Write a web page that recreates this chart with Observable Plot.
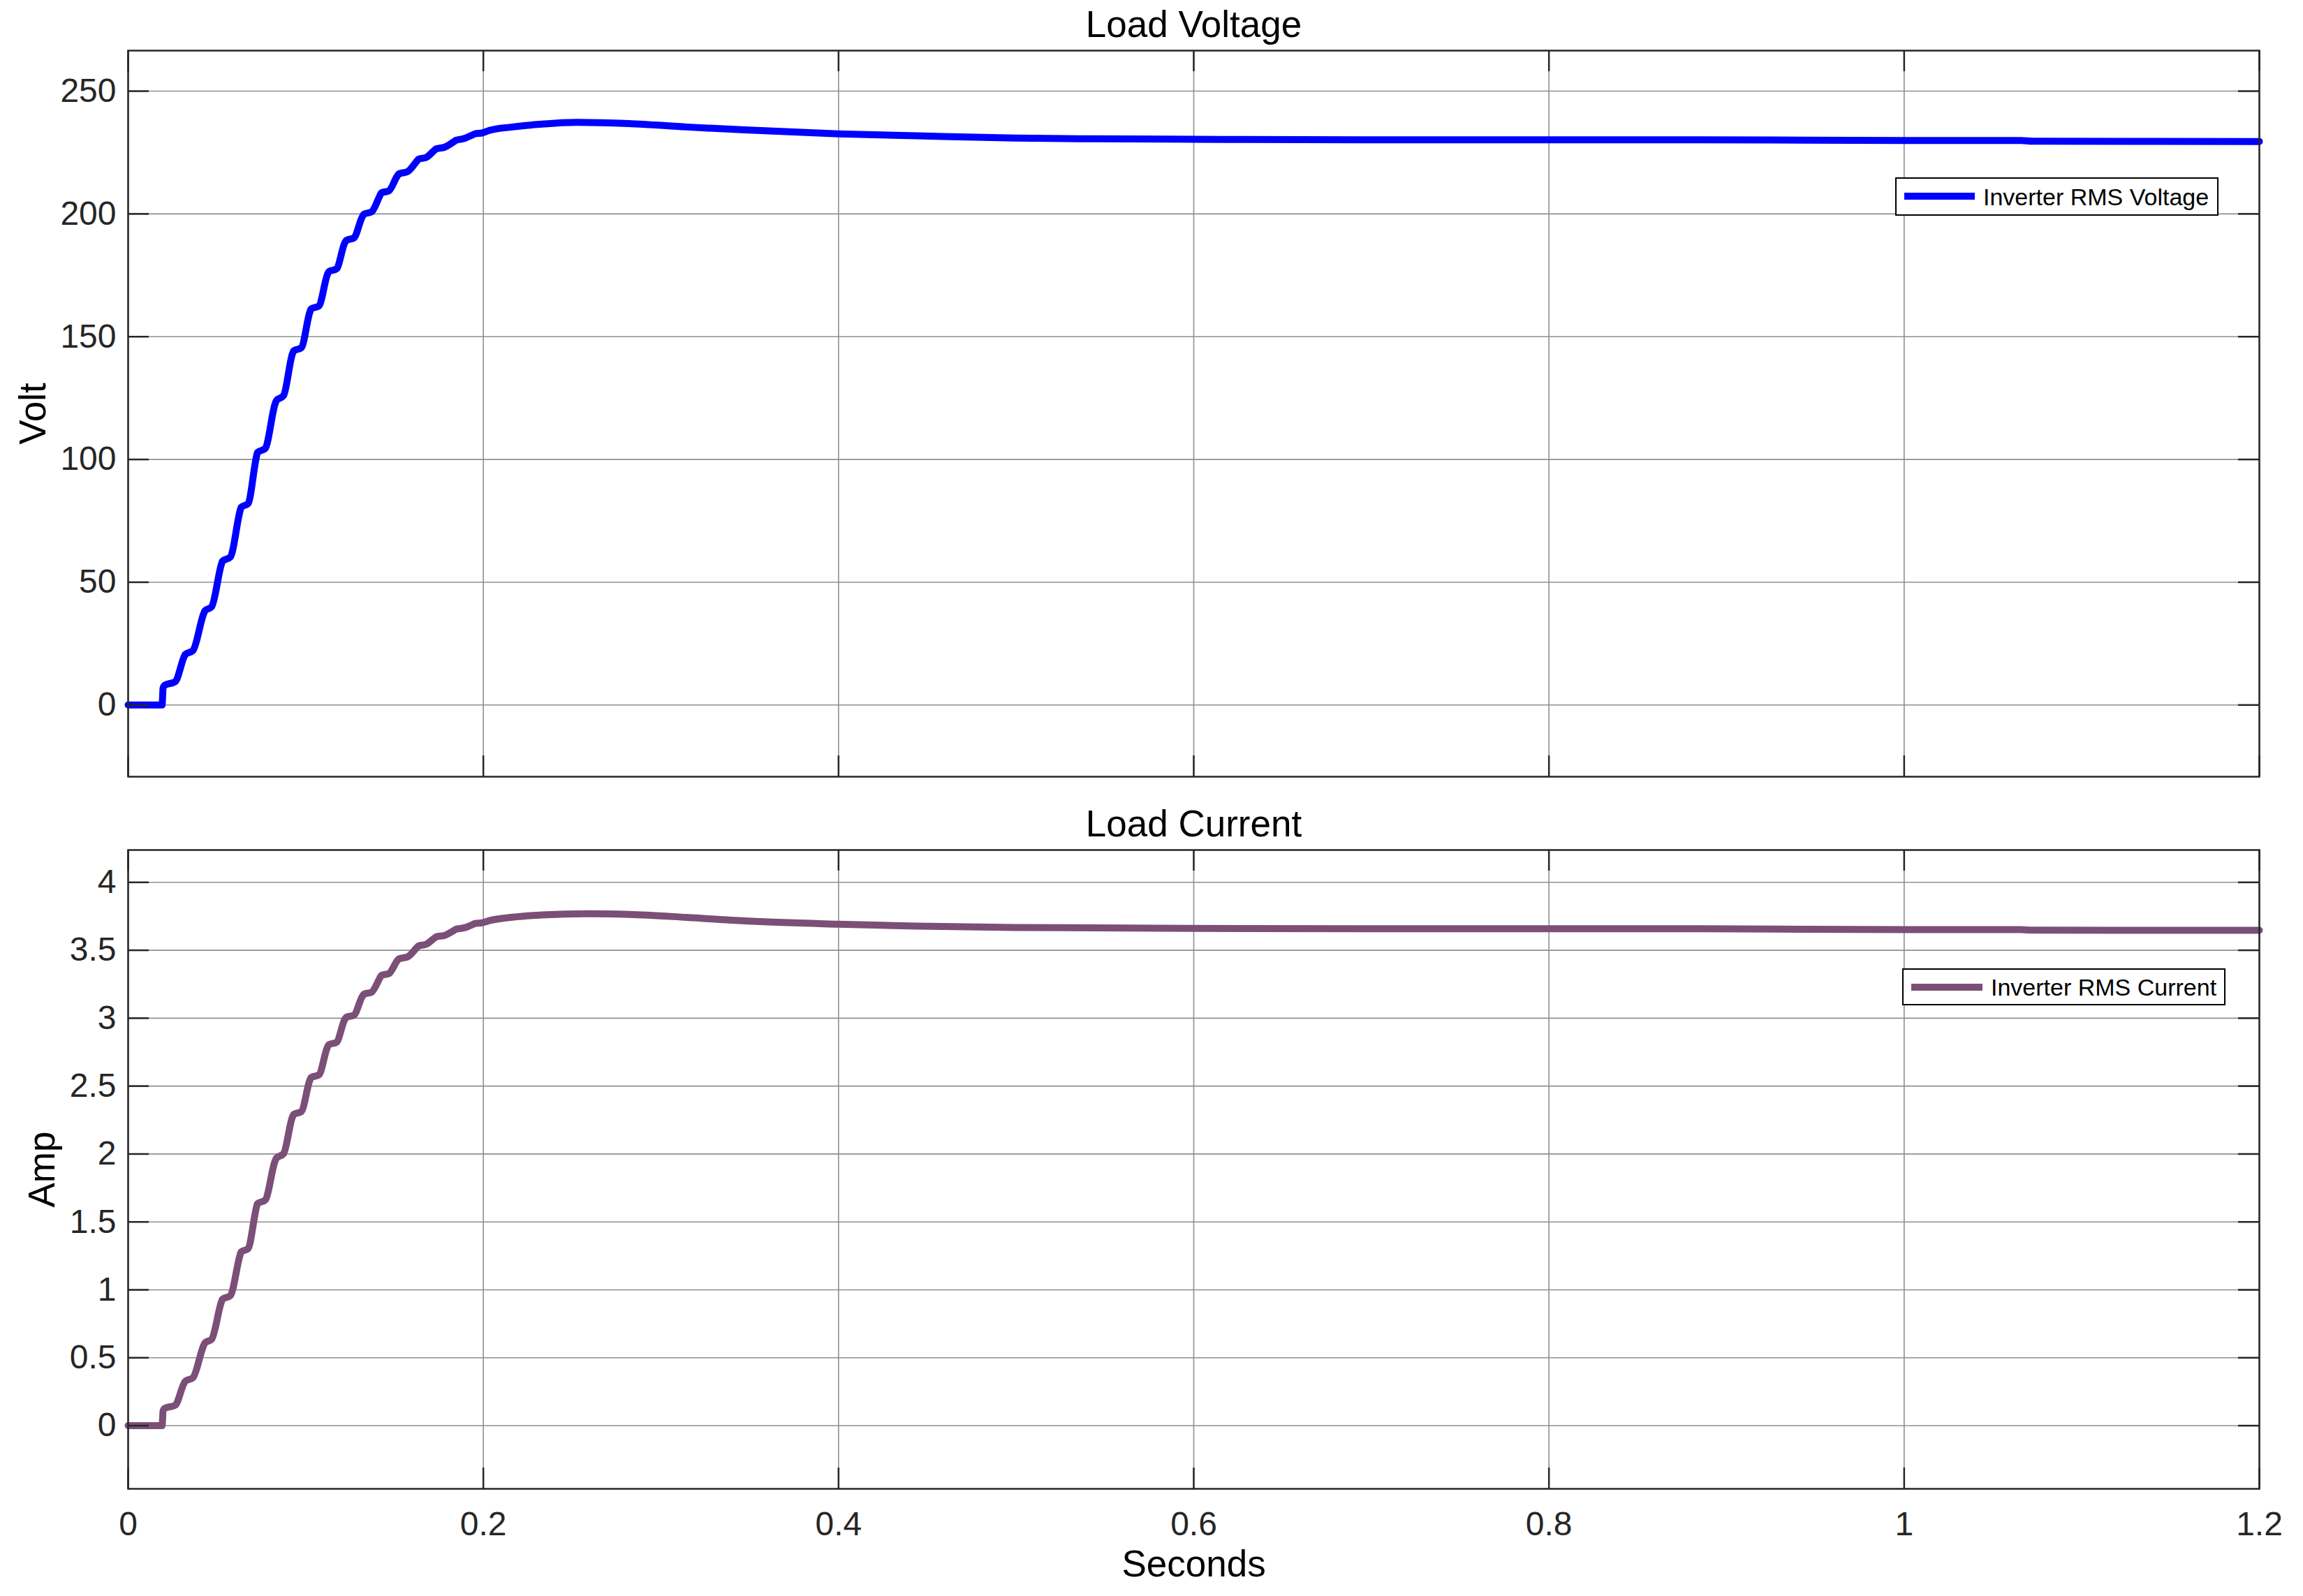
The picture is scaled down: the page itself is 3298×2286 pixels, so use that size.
<!DOCTYPE html>
<html><head><meta charset="utf-8">
<script src="https://cdn.jsdelivr.net/npm/d3@7"></script>
<script src="https://cdn.jsdelivr.net/npm/@observablehq/plot@0.6"></script>
<style>
html,body{margin:0;padding:0;background:#fff;overflow:hidden;}
#root{position:relative;width:3298px;height:2286px;background:#fff;font-family:"Liberation Sans",Arial,Helvetica,sans-serif;}
.panel{position:absolute;left:0;}
.lbox{position:absolute;background:#fff;border:2px solid #000;box-sizing:border-box;}
.sw{position:absolute;height:10px;}
.lt{position:absolute;line-height:0;height:0;white-space:nowrap;font-size:34px;color:#000;}
</style></head><body><div id="root"></div>
<script>
// ---- data ----
const xTicks = [0, 0.2, 0.4, 0.6, 0.8, 1, 1.2];
const voltTicks = [0, 50, 100, 150, 200, 250];
const ampTicks = [0, 0.5, 1, 1.5, 2, 2.5, 3, 3.5, 4];

const rampTime = [0, 0.0191, 0.0197, 0.0205, 0.0265, 0.0316, 0.0322, 0.0365, 0.0427, 0.0433, 0.0470, 0.0525, 0.0531, 0.0575,
  0.0630, 0.0636, 0.0675, 0.0722, 0.0728, 0.0772, 0.0827, 0.0835, 0.0875, 0.0925, 0.0932, 0.0975, 0.1023, 0.1030, 0.1074,
  0.1122, 0.1130, 0.1173, 0.1221, 0.1230, 0.1271, 0.1319, 0.1328, 0.1370, 0.1418, 0.1426, 0.1468, 0.1516, 0.1525, 0.1573,
  0.1628, 0.1635, 0.1678, 0.1726, 0.1735, 0.1783, 0.1838, 0.1846, 0.1888, 0.1943, 0.1952, 0.1995, 0.2034];
const rampVolt = [0, 0, 7, 8, 9.5, 19.8, 20.6, 22.2, 37.5, 38.4, 40, 57.3, 58.6, 60.2,
  79, 80.5, 82, 101, 102.8, 104.5, 122.5, 124, 126, 143, 144.2, 145.5, 160, 161.3, 162.5,
  175.3, 176.5, 177.6, 188.4, 189.3, 190.2, 198.9, 199.9, 200.8, 207.5, 208.6, 209.4, 215.5, 216.3, 217.2,
  221.7, 222.3, 223, 226, 226.5, 227.2, 229.6, 230.0, 230.6, 232.3, 232.6, 233.0, 234.0];
const rampAmp = [0, 0, 0.111, 0.127, 0.151, 0.315, 0.327, 0.353, 0.596, 0.610, 0.636, 0.911, 0.931, 0.957,
  1.255, 1.279, 1.303, 1.605, 1.634, 1.661, 1.947, 1.970, 2.002, 2.272, 2.291, 2.312, 2.543, 2.563, 2.582,
  2.786, 2.805, 2.822, 2.994, 3.008, 3.022, 3.161, 3.177, 3.191, 3.297, 3.315, 3.328, 3.424, 3.437, 3.451,
  3.523, 3.532, 3.544, 3.591, 3.599, 3.610, 3.649, 3.655, 3.664, 3.691, 3.696, 3.703, 3.718];

const voltTailTime = [0.2163, 0.233, 0.2526, 0.2819, 0.3145, 0.3471, 0.4, 0.4443, 0.4997, 0.542, 0.6, 0.695, 0.8, 0.885, 1.0, 1.066, 1.072, 1.2];
const voltTail = [235.4, 236.6, 237.3, 236.8, 235.4, 234.2, 232.6, 231.8, 230.9, 230.6, 230.4, 230.2, 230.2, 230.2, 229.9, 229.9, 229.6, 229.5];
const ampTailTime = [0.2163, 0.233, 0.259, 0.2819, 0.3145, 0.3471, 0.4, 0.4443, 0.4997, 0.6, 0.695, 0.8, 0.885, 1.0, 1.066, 1.072, 1.2];
const ampTail = [3.743, 3.760, 3.769, 3.764, 3.742, 3.716, 3.692, 3.678, 3.668, 3.661, 3.658, 3.658, 3.658, 3.652, 3.652, 3.648, 3.647];

const voltData = rampTime.map((t, i) => ({t, v: rampVolt[i]})).concat(voltTailTime.map((t, i) => ({t, v: voltTail[i]})));
const ampData = rampTime.map((t, i) => ({t, v: rampAmp[i]})).concat(ampTailTime.map((t, i) => ({t, v: ampTail[i]})));

// ---- layout ----
const W = 3298, ML = 183, MR = 63, TICK = 30;
const FONT = "'Liberation Sans', Arial, Helvetica, sans-serif";
const AXC = "#262626", GRID = "#8f8f8f";

function panel({top, height, marginTop, marginBottom, yDomain, yTicks, data, color, title, ylabel, ylabelX, showX}) {
  const frameW = W - ML - MR;
  const frameH = height - marginTop - marginBottom;
  const marks = [
    Plot.gridX(xTicks, {stroke: GRID, strokeOpacity: 1, strokeWidth: 1.6}),
    Plot.gridY(yTicks, {stroke: GRID, strokeOpacity: 1, strokeWidth: 1.6}),
    Plot.line(data, {x: "t", y: "v", stroke: color, strokeWidth: 10, curve: "monotone-x"}),
    Plot.tickY(yTicks, {y: d => d, insetRight: frameW - TICK, stroke: AXC, strokeWidth: 2.5}),
    Plot.tickY(yTicks, {y: d => d, insetLeft: frameW - TICK, stroke: AXC, strokeWidth: 2.5}),
    Plot.tickX(xTicks, {x: d => d, insetBottom: frameH - TICK, stroke: AXC, strokeWidth: 2.5}),
    Plot.tickX(xTicks, {x: d => d, insetTop: frameH - TICK, stroke: AXC, strokeWidth: 2.5}),
    Plot.frame({stroke: AXC, strokeWidth: 2.5}),
    Plot.axisY(yTicks, {tickSize: 0, tickPadding: 17, fontSize: 48, fill: AXC, label: null, tickFormat: d => String(d)}),
    Plot.text([title], {text: d => d, frameAnchor: "top", dy: -36, fontSize: 53, fill: "#000", lineAnchor: "middle"}),
    Plot.text([ylabel], {text: d => d, frameAnchor: "left", dx: ylabelX - ML, rotate: -90, fontSize: 53, fill: "#000", lineAnchor: "middle", textAnchor: "middle"})
  ];
  if (showX) {
    marks.push(Plot.axisX(xTicks, {tickSize: 0, tickPadding: 32, fontSize: 48, fill: AXC, label: null, tickFormat: d => String(d)}));
    marks.push(Plot.text(["Seconds"], {text: d => d, frameAnchor: "bottom", dy: 109, fontSize: 53, fill: "#000", lineAnchor: "middle"}));
  }
  const svg = Plot.plot({
    width: W, height,
    marginLeft: ML, marginRight: MR, marginTop, marginBottom,
    style: {fontFamily: FONT, background: "transparent", overflow: "visible"},
    x: {domain: [0, 1.2], axis: showX ? undefined : null},
    y: {domain: yDomain, label: null},
    marks
  });
  svg.classList.add("panel");
  svg.style.top = top + "px";
  svg.style.position = "absolute";
  svg.style.maxWidth = "none";
  return svg;
}

const root = document.getElementById("root");
root.appendChild(panel({
  top: 0, height: 1140, marginTop: 72, marginBottom: 28,
  yDomain: [-29.2, 266.5], yTicks: voltTicks, data: voltData, color: "#0000ff",
  title: "Load Voltage", ylabel: "Volt", ylabelX: 48, showX: false
}));
root.appendChild(panel({
  top: 1140, height: 1146, marginTop: 77, marginBottom: 154,
  yDomain: [-0.465, 4.238], yTicks: ampTicks, data: ampData, color: "#7b4f77",
  title: "Load Current", ylabel: "Amp", ylabelX: 61, showX: true
}));

function legend(box, sw, txt, color, label) {
  const b = document.createElement("div");
  b.className = "lbox";
  Object.assign(b.style, {left: box[0] + "px", top: box[1] + "px", width: box[2] + "px", height: box[3] + "px"});
  root.appendChild(b);
  const s = document.createElement("div");
  s.className = "sw";
  Object.assign(s.style, {left: sw[0] + "px", top: sw[1] + "px", width: sw[2] + "px", background: color});
  root.appendChild(s);
  const t = document.createElement("div");
  t.className = "lt";
  Object.assign(t.style, {left: txt[0] + "px", top: txt[1] + "px"});
  t.textContent = label;
  root.appendChild(t);
}
legend([2714, 254, 463, 55], [2727, 276, 101], [2840, 282], "#0000ff", "Inverter RMS Voltage");
legend([2724, 1387, 463, 53], [2737, 1409, 102], [2851, 1414], "#7b4f77", "Inverter RMS Current");
</script></body></html>
